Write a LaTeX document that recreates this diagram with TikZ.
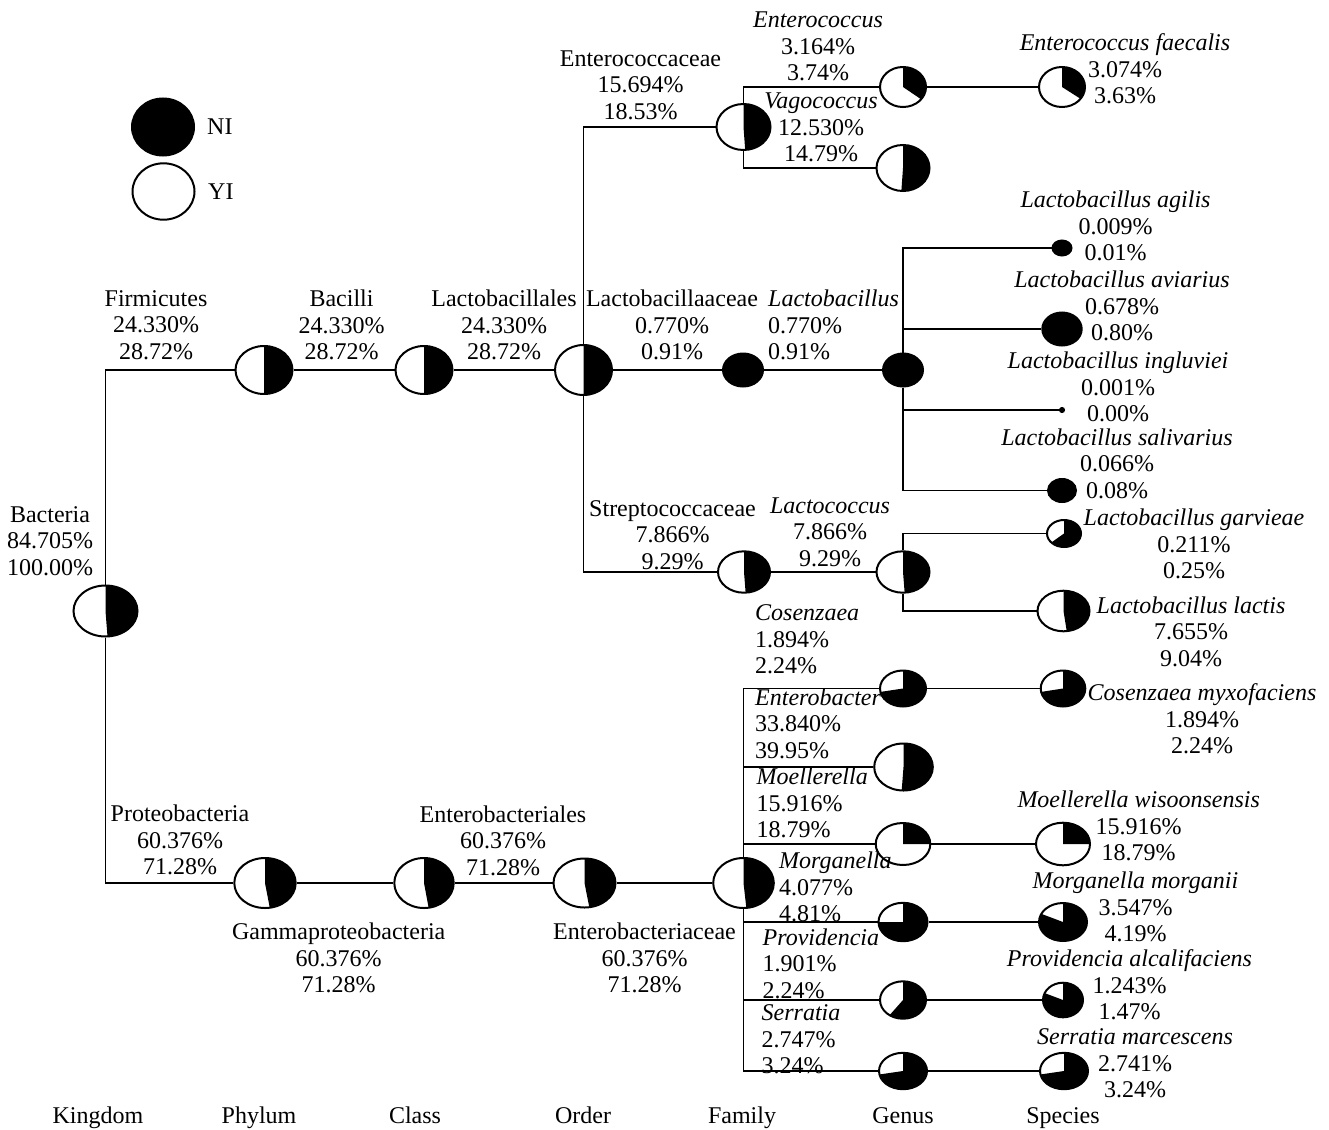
\documentclass[tikz,border=0pt]{standalone}
\usepackage{fontspec}
\setmainfont{Liberation Serif}
\usetikzlibrary{shapes.geometric}
\begin{document}
\begin{tikzpicture}[x=1pt,y=1pt,
  every node/.style={font=\fontsize{24}{26.5}\selectfont,inner sep=0pt},
  pie/.style n args={3}{ellipse,draw,line width=2pt,fill=white,
    minimum width={2*#1-2},minimum height={2*#2-2},
    path picture={\fill[black] (path picture bounding box.center) -- ++(0,2*#2)
      arc[start angle=90,delta angle={-360*#3},x radius={2*#1},y radius={2*#2}] -- cycle;}},
  lab/.style={align=center},
  lableft/.style={align=left,anchor=west},
  rank/.style={anchor=base},
  branch/.style={line width=1.6pt}]
  \useasboundingbox (0,0) rectangle (1329,-1129);
  % legend
  \node[pie={32}{29.5}{1}] (ni) at (163,-127) {};
  \node[anchor=west] (ni-t) at (207,-127) {NI};
  \node[ellipse,draw,line width=2pt,fill=white,minimum width=62,minimum height=56.4] (yi) at (163.5,-191.5) {};
  \node[anchor=west] (yi-t) at (208,-191.5) {YI};
  % kingdom to order
  \node[pie={33}{26.5}{0.49}] (bact) at (105.5,-611) {};
  \node[pie={29.5}{25}{0.5}] (firm) at (264,-370) {};
  \node[pie={29.5}{25}{0.5}] (bacil) at (424,-370) {};
  \node[pie={29.5}{26}{0.5}] (lacb) at (583.5,-370) {};
  \node[pie={31.7}{26}{0.475}] (prot) at (265,-883) {};
  \node[pie={30.7}{26}{0.475}] (gamm) at (424,-883) {};
  \node[pie={32}{25.5}{0.475}] (enbl) at (584.5,-883) {};
  \node[lab] (bact-l) at (50,-541) {Bacteria\\84.705\%\\100.00\%};
  \node[lab] (firm-l) at (156,-325) {Firmicutes\\24.330\%\\28.72\%};
  \node[lab] (bacil-l) at (341.5,-325) {Bacilli\\24.330\%\\28.72\%};
  \node[lab] (lacb-l) at (504,-325) {Lactobacillales\\24.330\%\\28.72\%};
  \node[lab] (prot-l) at (180,-840) {Proteobacteria\\60.376\%\\71.28\%};
  \node[lab] (gamm-l) at (338.7,-958.3) {Gammaproteobacteria\\60.376\%\\71.28\%};
  \node[lab] (enbl-l) at (503,-840.5) {Enterobacteriales\\60.376\%\\71.28\%};
  % family
  \node[pie={28}{24}{0.49}] (entc) at (743.5,-127) {};
  \node[pie={21}{17.5}{1}] (lbac) at (743,-370) {};
  \node[pie={27}{21.7}{0.49}] (strc) at (744,-572) {};
  \node[pie={31.3}{26}{0.485}] (enbc) at (743.5,-883) {};
  \node[lab] (entc-l) at (640.5,-85) {Enterococcaceae\\15.694\%\\18.53\%};
  \node[lab] (lbac-l) at (672,-325) {Lactobacillaaceae\\0.770\%\\0.91\%};
  \node[lab] (strc-l) at (672.5,-535) {Streptococcaceae\\7.866\%\\9.29\%};
  \node[lab] (enbc-l) at (644.5,-958.3) {Enterobacteriaceae\\60.376\%\\71.28\%};
  % genus
  \node[pie={24}{21}{0.355}] (ecoc) at (903,-87) {};
  \node[pie={27.5}{24}{0.51}] (vago) at (903,-168) {};
  \node[pie={21}{17.5}{1}] (lbg) at (903,-370) {};
  \node[pie={27.5}{21.7}{0.49}] (lcoc) at (903,-572) {};
  \node[pie={24}{19}{0.72}] (cosg) at (903,-688.5) {};
  \node[pie={30.3}{24.5}{0.51}] (entb) at (903.5,-767) {};
  \node[pie={28.3}{22}{0.25}] (moeg) at (903,-844) {};
  \node[pie={25.5}{20.2}{0.75}] (morg) at (903,-922) {};
  \node[pie={24}{19.7}{0.6}] (prov) at (903,-1000) {};
  \node[pie={25}{19.2}{0.72}] (serg) at (903,-1071) {};
  \node[lab] (ecoc-l) at (818,-46.7) {\itshape Enterococcus\\3.164\%\\3.74\%};
  \node[lab] (vago-l) at (821,-127.7) {\itshape Vagococcus\\12.530\%\\14.79\%};
  \node[lableft] (lbg-l) at (768,-325) {\itshape Lactobacillus\\0.770\%\\0.91\%};
  \node[lab] (lcoc-l) at (830,-532) {\itshape Lactococcus\\7.866\%\\9.29\%};
  \node[lableft] (cosg-l) at (755,-639.5) {\itshape Cosenzaea\\1.894\%\\2.24\%};
  \node[lableft] (entb-l) at (755,-723.5) {\itshape Enterobacter\\33.840\%\\39.95\%};
  \node[lableft] (moeg-l) at (756.5,-803) {\itshape Moellerella\\15.916\%\\18.79\%};
  \node[lableft] (morg-l) at (779,-887) {\itshape Morganella\\4.077\%\\4.81\%};
  \node[lableft] (prov-l) at (762.5,-963.5) {\itshape Providencia\\1.901\%\\2.24\%};
  \node[lableft] (serg-l) at (761.5,-1039.5) {\itshape Serratia\\2.747\%\\3.24\%};
  % species
  \node[pie={24}{21}{0.35}] (efae) at (1062,-87) {};
  \node[pie={10.5}{8.5}{1}] (agil) at (1062,-248) {};
  \node[pie={20.7}{17.5}{1}] (avia) at (1062,-329) {};
  \node[pie={3}{3}{1}] (ingl) at (1062,-410) {};
  \node[pie={15}{12.5}{1}] (sali) at (1062,-490.5) {};
  \node[pie={18}{14.5}{0.635}] (garv) at (1064,-533.5) {};
  \node[pie={27}{21.3}{0.48}] (llac) at (1063.5,-611) {};
  \node[pie={23.3}{19}{0.72}] (cmyx) at (1063,-688.5) {};
  \node[pie={28}{22.3}{0.25}] (mwis) at (1063,-844) {};
  \node[pie={25}{20}{0.82}] (mmor) at (1063,-922) {};
  \node[pie={21}{18.3}{0.815}] (palc) at (1063,-1000) {};
  \node[pie={25}{19.2}{0.72}] (smar) at (1064,-1071) {};
  \node[lab] (efae-l) at (1125,-69) {\itshape Enterococcus faecalis\\3.074\%\\3.63\%};
  \node[lab] (agil-l) at (1115.5,-226) {\itshape Lactobacillus agilis\\0.009\%\\0.01\%};
  \node[lab] (avia-l) at (1122,-306) {\itshape Lactobacillus aviarius\\0.678\%\\0.80\%};
  \node[lab] (ingl-l) at (1118,-387) {\itshape Lactobacillus ingluviei\\0.001\%\\0.00\%};
  \node[lab] (sali-l) at (1117,-463.5) {\itshape Lactobacillus salivarius\\0.066\%\\0.08\%};
  \node[lab] (garv-l) at (1194,-544) {\itshape Lactobacillus garvieae\\0.211\%\\0.25\%};
  \node[lab] (llac-l) at (1191,-631.5) {\itshape Lactobacillus lactis\\7.655\%\\9.04\%};
  \node[lab] (cmyx-l) at (1202,-719) {\itshape Cosenzaea myxofaciens\\1.894\%\\2.24\%};
  \node[lab] (mwis-l) at (1138.7,-826) {\itshape Moellerella wisoonsensis\\15.916\%\\18.79\%};
  \node[lab] (mmor-l) at (1135.5,-907) {\itshape Morganella morganii\\3.547\%\\4.19\%};
  \node[lab] (palc-l) at (1129.5,-985) {\itshape Providencia alcalifaciens\\1.243\%\\1.47\%};
  \node[lab] (smar-l) at (1135,-1063.5) {\itshape Serratia marcescens\\2.741\%\\3.24\%};
  % ranks
  \node[rank] (r-king) at (98,-1123) {Kingdom};
  \node[rank] (r-phyl) at (259,-1123) {Phylum};
  \node[rank] (r-clas) at (415,-1123) {Class};
  \node[rank] (r-ord) at (583,-1123) {Order};
  \node[rank] (r-fam) at (742,-1123) {Family};
  \node[rank] (r-gen) at (903,-1123) {Genus};
  \node[rank] (r-spec) at (1063,-1123) {Species};
  % branches
  \draw[branch] (bact) |- (firm);
  \draw[branch] (bact) |- (prot);
  \draw[branch] (firm) -- (bacil);
  \draw[branch] (bacil) -- (lacb);
  \draw[branch] (lacb) |- (entc);
  \draw[branch] (lacb) -- (lbac);
  \draw[branch] (lacb) |- (strc);
  \draw[branch] (entc) |- (ecoc);
  \draw[branch] (entc) |- (vago);
  \draw[branch] (ecoc) -- (efae);
  \draw[branch] (lbac) -- (lbg);
  \foreach \s in {agil,avia,ingl,sali} \draw[branch] (lbg) |- (\s);
  \draw[branch] (strc) -- (lcoc);
  \draw[branch] (lcoc) |- (garv);
  \draw[branch] (lcoc) |- (llac);
  \draw[branch] (prot) -- (gamm);
  \draw[branch] (gamm) -- (enbl);
  \draw[branch] (enbl) -- (enbc);
  \foreach \g in {cosg,entb,moeg,morg,prov,serg} \draw[branch] (enbc) |- (\g);
  \draw[branch] (cosg) -- (cmyx);
  \draw[branch] (moeg) -- (mwis);
  \draw[branch] (morg) -- (mmor);
  \draw[branch] (prov) -- (palc);
  \draw[branch] (serg) -- (smar);
\end{tikzpicture}
\end{document}
